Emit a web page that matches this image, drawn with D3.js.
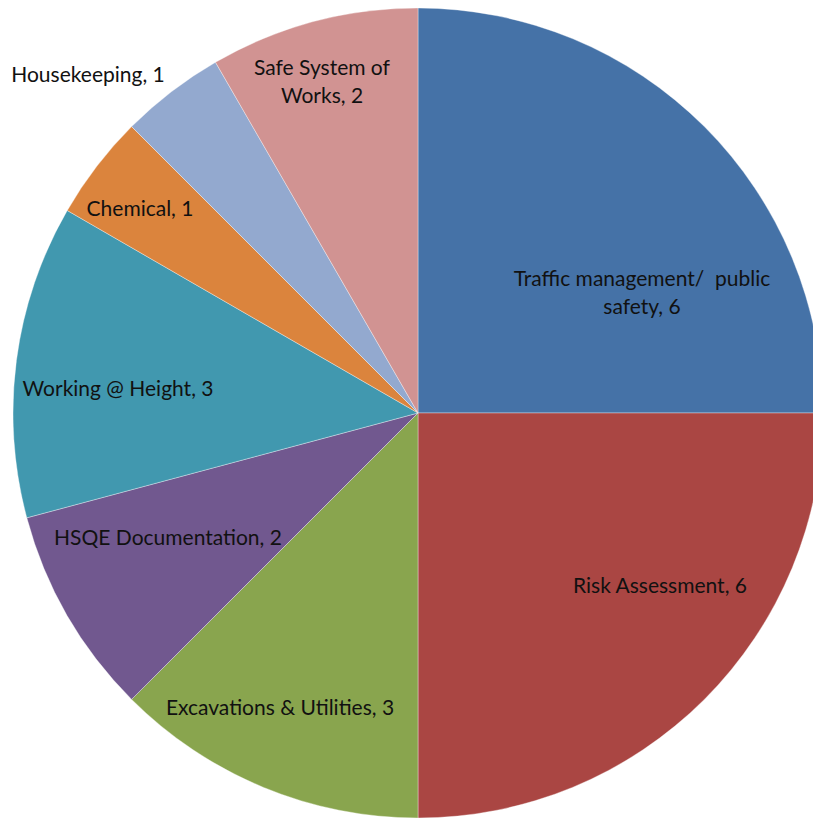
<!DOCTYPE html>
<html><head><meta charset="utf-8">
<script src="https://cdn.jsdelivr.net/npm/d3@7"></script>
<style>html,body{margin:0;padding:0;background:#fff;overflow:hidden}</style>
</head><body>
<svg id="chart" width="813" height="819"></svg>
<script>
const categories = ["Traffic management/  public safety","Risk Assessment","Excavations & Utilities","HSQE Documentation","Working @ Height","Chemical","Housekeeping","Safe System of Works"];
const values = [6,6,3,2,3,1,1,2];
const colors = ["#4572A7","#AA4643","#89A54E","#71588F","#4198AF","#DB843D","#93A9CF","#D19392"];
const labelLines = [["Traffic management/  public","safety, 6"],["Risk Assessment, 6"],["Excavations & Utilities, 3"],["HSQE Documentation, 2"],["Working @ Height, 3"],["Chemical, 1"],["Housekeeping, 1"],["Safe System of","Works, 2"]];

// layout (label anchors, px)
const cx = 418, cy = 413, R = 405;
const labelAt = [[642,293],[660,586],[280,708],[168,538],[118,389],[140,209],[88,75],[322,82]];

const svg = d3.select("#chart");
const g = svg.append("g").attr("transform",`translate(${cx},${cy})`);
const pie = d3.pie().sort(null).value(d=>d)(values);
const arc = d3.arc().innerRadius(0).outerRadius(R);
g.selectAll("path").data(pie).join("path")
  .attr("d",arc).attr("fill",(d,i)=>colors[i])
  .attr("stroke","#ffffff").attr("stroke-opacity",0.35).attr("stroke-width",1);

const lh = 28;
labelLines.forEach((lines,i)=>{
  const t = svg.append("text").attr("text-anchor","middle")
    .attr("font-family","Lato, 'Open Sans', sans-serif").attr("font-size",21).attr("fill","#111");
  const y0 = labelAt[i][1] - (lines.length-1)*lh/2;
  lines.forEach((s,j)=>{
    t.append("tspan").attr("x",labelAt[i][0]).attr("y",y0+j*lh).attr("dy","0.35em").attr("xml:space","preserve").text(s);
  });
});
</script>
</body></html>
